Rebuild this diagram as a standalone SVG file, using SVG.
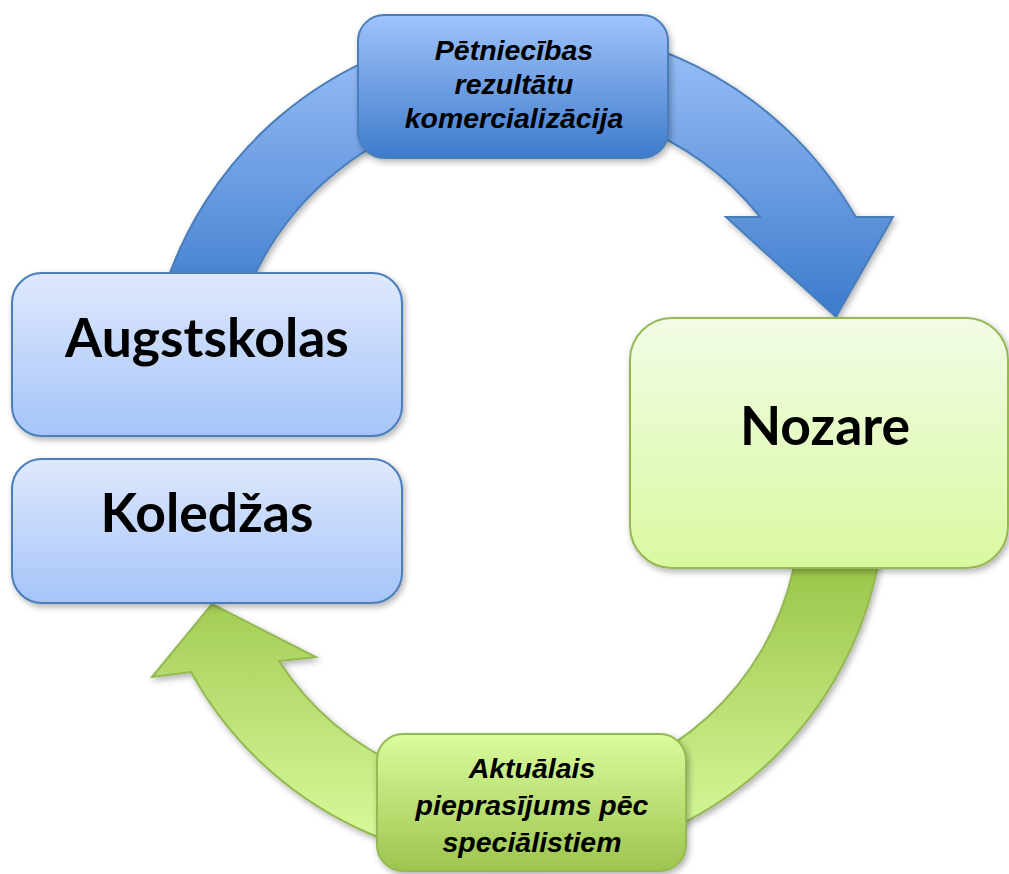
<svg xmlns="http://www.w3.org/2000/svg" width="1009" height="874" viewBox="0 0 1009 874">
<defs>
<linearGradient id="gBoxBlue" x1="0" y1="0" x2="0" y2="1"><stop offset="0" stop-color="#dfe9fd"/><stop offset="1" stop-color="#a5c4f8"/></linearGradient>
<linearGradient id="gTopBox" x1="0" y1="0" x2="0" y2="1"><stop offset="0" stop-color="#9fc3fb"/><stop offset="1" stop-color="#3e7bcb"/></linearGradient>
<linearGradient id="gBlueArrow" gradientUnits="userSpaceOnUse" x1="0" y1="30" x2="0" y2="320"><stop offset="0" stop-color="#9dc2fa"/><stop offset="1" stop-color="#3b7acb"/></linearGradient>
<linearGradient id="gNozare" x1="0" y1="0" x2="0" y2="1"><stop offset="0" stop-color="#f2fce6"/><stop offset="1" stop-color="#d9f9a0"/></linearGradient>
<linearGradient id="gGreenArrow" gradientUnits="userSpaceOnUse" x1="0" y1="570" x2="0" y2="840"><stop offset="0" stop-color="#9cc64b"/><stop offset="1" stop-color="#d8fa9c"/></linearGradient>
<linearGradient id="gBottomBox" x1="0" y1="0" x2="0" y2="1"><stop offset="0" stop-color="#dafc9d"/><stop offset="1" stop-color="#9dc54f"/></linearGradient>
<filter id="sh" x="-10%" y="-10%" width="125%" height="125%"><feDropShadow dx="2" dy="3" stdDeviation="3" flood-color="#000" flood-opacity="0.3"/></filter>
</defs>
<style>
.blue{stroke:#4a7ebb;stroke-width:2;}
.green{stroke:#94b853;stroke-width:2;}
.big{font-family:Lato,"Open Sans",sans-serif;font-weight:bold;font-size:53.5px;fill:#000;text-anchor:middle;}
.small{font-family:"Liberation Sans",Arial,sans-serif;font-weight:bold;font-style:italic;font-size:28.5px;fill:#000;text-anchor:middle;}
</style>
<g id="connectors">
<path id="arrow-top" class="blue" fill="url(#gBlueArrow)" filter="url(#sh)" d="M161,300 A380,380 0 0 1 855.7,217 L893,217 L836,317 L726,217 L760.3,217 A301,301 0 0 0 244,300 Z"/>
<path id="arrow-bottom" class="green" fill="url(#gGreenArrow)" filter="url(#sh)" d="M880.7,550 A370,370 0 0 1 191,672 L152,677 L212,604 L316,657 L279,661 A283,283 0 0 0 796.9,550 Z"/>
</g>
<g id="node-augstskolas">
<rect class="blue" fill="url(#gBoxBlue)" filter="url(#sh)" x="12" y="273" width="390" height="163" rx="30"/>
<text class="big" x="207" y="357">Augstskolas</text>
</g>
<g id="node-koledzas">
<rect class="blue" fill="url(#gBoxBlue)" filter="url(#sh)" x="12" y="459" width="390" height="144" rx="30"/>
<text class="big" x="207" y="532">Koledžas</text>
</g>
<g id="node-nozare">
<rect class="green" fill="url(#gNozare)" filter="url(#sh)" x="630" y="318" width="378" height="250" rx="42"/>
<text class="big" x="825" y="445">Nozare</text>
</g>
<g id="node-petniecibas">
<rect class="blue" fill="url(#gTopBox)" filter="url(#sh)" x="358" y="15" width="310" height="143" rx="26"/>
<text class="small" x="514" y="60">Pētniecības</text>
<text class="small" x="514" y="94">rezultātu</text>
<text class="small" x="514" y="128">komercializācija</text>
</g>
<g id="node-aktualais">
<rect class="green" fill="url(#gBottomBox)" filter="url(#sh)" x="377" y="734" width="309" height="137" rx="26"/>
<text class="small" x="532" y="778">Aktuālais</text>
<text class="small" x="532" y="815">pieprasījums pēc</text>
<text class="small" x="532" y="852">speciālistiem</text>
</g>
</svg>
